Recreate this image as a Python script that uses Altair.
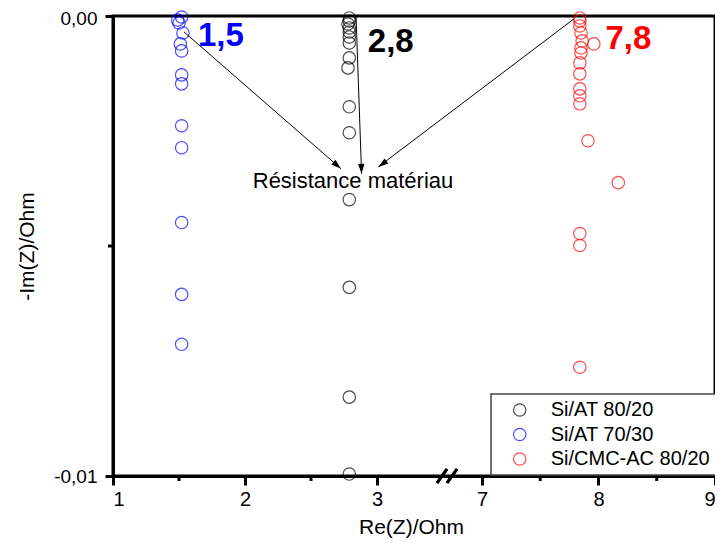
import altair as alt
import pandas as pd

FONT = "Liberation Sans"

# ---- data ----
series_names = ["Si/AT 80/20", "Si/AT 70/30", "Si/CMC-AC 80/20"]
series_colors = ["#000000", "#0000FF", "#FF0000"]

black_re = [2.79, 2.79, 2.78, 2.79, 2.79, 2.79, 2.79, 2.79, 2.78, 2.79, 2.79, 2.79, 2.79, 2.79, 2.79]
black_im = [-0.000043, -0.000108, -0.000174, -0.000260, -0.000347, -0.000456, -0.000586,
            -0.000911, -0.001128, -0.001974, -0.002538, -0.003991, -0.005900, -0.008286, -0.009957]

blue_re = [1.52, 1.49, 1.50, 1.53, 1.51, 1.52, 1.52, 1.52, 1.52, 1.52, 1.52, 1.52, 1.52]
blue_im = [-0.000022, -0.000087, -0.000152, -0.000369, -0.000607, -0.000759, -0.001280,
           -0.001475, -0.002386, -0.002863, -0.004490, -0.006052, -0.007137]

red_re = [7.84, 7.84, 7.84, 7.85, 7.86, 7.96, 7.85, 7.85, 7.84, 7.84, 7.84, 7.84, 7.84,
          7.91, 8.17, 7.84, 7.84, 7.84]
red_im = [-0.000043, -0.000108, -0.000217, -0.000369, -0.000542, -0.000607, -0.000694,
          -0.000803, -0.001020, -0.001258, -0.001584, -0.001735, -0.001909, -0.002712,
          -0.003623, -0.004729, -0.004989, -0.007636]

# axis ticks
x_major = [1, 2, 3, 7, 8, 9]
x_minor = [1.5, 2.5, 7.5, 8.5]
y_major = [0, -0.01]
y_minor = [-0.005]

# annotations
value_labels = ["1,5", "2,8", "7,8"]
value_label_re = [1.644, 2.93, 8.06]
value_label_im = [-0.00065, -0.00078, -0.00072]

note_text = ["Résistance matériau"]
note_re = [2.818]
note_im = [-0.00373]

arrow_re0 = [1.538, 2.841, 7.788]
arrow_im0 = [-0.000347, 0.0, -0.000065]
arrow_re1 = [2.727, 2.883, 3.01]
arrow_im1 = [-0.00332, -0.00343, -0.00328]
arrow_angle = [131, 178, 234]

# ---- tables ----
pts = pd.DataFrame({
    "Re": black_re + blue_re + red_re,
    "Im": black_im + blue_im + red_im,
    "serie": [series_names[0]] * len(black_re) + [series_names[1]] * len(blue_re)
             + [series_names[2]] * len(red_re),
})
xminor_df = pd.DataFrame({"Re": x_minor})
yminor_df = pd.DataFrame({"Im": y_minor})
lab_df = pd.DataFrame({"Re": value_label_re, "Im": value_label_im, "t": value_labels,
                       "c": series_colors[1:2] + series_colors[0:1] + series_colors[2:3]})
note_df = pd.DataFrame({"Re": note_re, "Im": note_im, "t": note_text})
arr_df = pd.DataFrame({"Re": arrow_re0, "Im": arrow_im0, "Re1": arrow_re1, "Im1": arrow_im1,
                       "ang": arrow_angle})
one = pd.DataFrame({"k": [0, 1]})

W, H = 602, 460
BRK = 334
xs = alt.Scale(domain=[1, 3.53, 6.7, 9], range=[0, BRK, BRK, W], nice=False, zero=False)
ys = alt.Scale(domain=[-0.01, 0], nice=False, zero=False)

x_axis = alt.Axis(values=x_major, format="d", title="Re(Z)/Ohm", tickSize=9, labelPadding=4,
                  titleX=298, titleY=57, titleBaseline="alphabetic", grid=False)
y_axis = alt.Axis(values=y_major,
                  labelExpr="replace(replace(format(datum.value, '.2f'), '.', ','), '\u2212', '-')",
                  labelFontSize=19,
                  labelOffset={"condition": {"test": "datum.value == 0", "value": 2}, "value": 0},
                  title="-Im(Z)/Ohm", tickSize=8, labelPadding=8, titleX=-86, titleY=230,
                  titleAngle=270, titleAlign="center", titleBaseline="middle", grid=False)


def X(field):
    return alt.X(field, scale=xs, axis=x_axis)


def Y(field):
    return alt.Y(field, scale=ys, axis=y_axis)


points = alt.Chart(pts).mark_point(shape="circle", filled=False, size=154, strokeWidth=1.2).encode(
    x=X("Re:Q"),
    y=Y("Im:Q"),
    color=alt.Color("serie:N",
                    scale=alt.Scale(domain=series_names, range=series_colors),
                    legend=alt.Legend(orient="none", legendX=378, legendY=378, title=None,
                                      padding=6, symbolOffset=12.7, labelOffset=21,
                                      rowPadding=4.5, labelFontSize=20, labelFont=FONT,
                                      strokeColor="#444444", fillColor="white",
                                      symbolSize=154, symbolStrokeWidth=1.2,
                                      symbolType="circle", labelLimit=400)),
)

xminor = alt.Chart(xminor_df).mark_rule(color="black", strokeWidth=3).encode(
    x=X("Re:Q"),
    y=alt.value(H), y2=alt.value(H + 5),
)
yminor = alt.Chart(yminor_df).mark_rule(color="black", strokeWidth=3).encode(
    y=Y("Im:Q"),
    x=alt.value(0), x2=alt.value(-5),
)

brk1 = alt.Chart(one).mark_rule(color="black", strokeWidth=3).encode(
    x=alt.value(BRK - 10), x2=alt.value(BRK), y=alt.value(H + 7), y2=alt.value(H - 7),
)
brk2 = alt.Chart(one).mark_rule(color="black", strokeWidth=3).encode(
    x=alt.value(BRK), x2=alt.value(BRK + 10), y=alt.value(H + 7), y2=alt.value(H - 7),
)

shafts = alt.Chart(arr_df).mark_rule(color="black", strokeWidth=1).encode(
    x=X("Re:Q"), x2="Re1:Q",
    y=Y("Im:Q"), y2="Im1:Q",
)
heads = alt.Chart(arr_df).mark_point(shape="M0,0L-0.32,1L0.32,1Z", filled=True, color="black",
                                     size=400, opacity=1).encode(
    x=X("Re1:Q"),
    y=Y("Im1:Q"),
    angle=alt.Angle("ang:Q", scale=None),
)

labels = alt.Chart(lab_df).mark_text(font=FONT, fontSize=33, fontWeight="bold", align="left",
                                     baseline="alphabetic").encode(
    x=X("Re:Q"),
    y=Y("Im:Q"),
    text="t:N",
    color=alt.Color("c:N", scale=None),
)
note = alt.Chart(note_df).mark_text(font=FONT, fontSize=22, align="center",
                                    baseline="alphabetic", color="black").encode(
    x=X("Re:Q"),
    y=Y("Im:Q"),
    text="t:N",
)

chart = alt.layer(points, shafts, heads, xminor, yminor, brk1, brk2, labels, note).properties(
    width=W, height=H,
    autosize=alt.AutoSizeParams(type="none"),
    padding={"left": 105, "top": 8, "right": 0, "bottom": 62},
).configure_view(
    stroke="black", strokeWidth=3
).configure_axis(
    domainColor="black", domainWidth=3, tickColor="black", tickWidth=3,
    labelFont=FONT, labelFontSize=20, labelColor="black",
    titleFont=FONT, titleFontSize=21, titleColor="black", titleFontWeight="normal",
).configure_legend(
    strokeWidth=1.5
)

chart.save("out.html", embed_options={"renderer": "svg", "actions": False})
